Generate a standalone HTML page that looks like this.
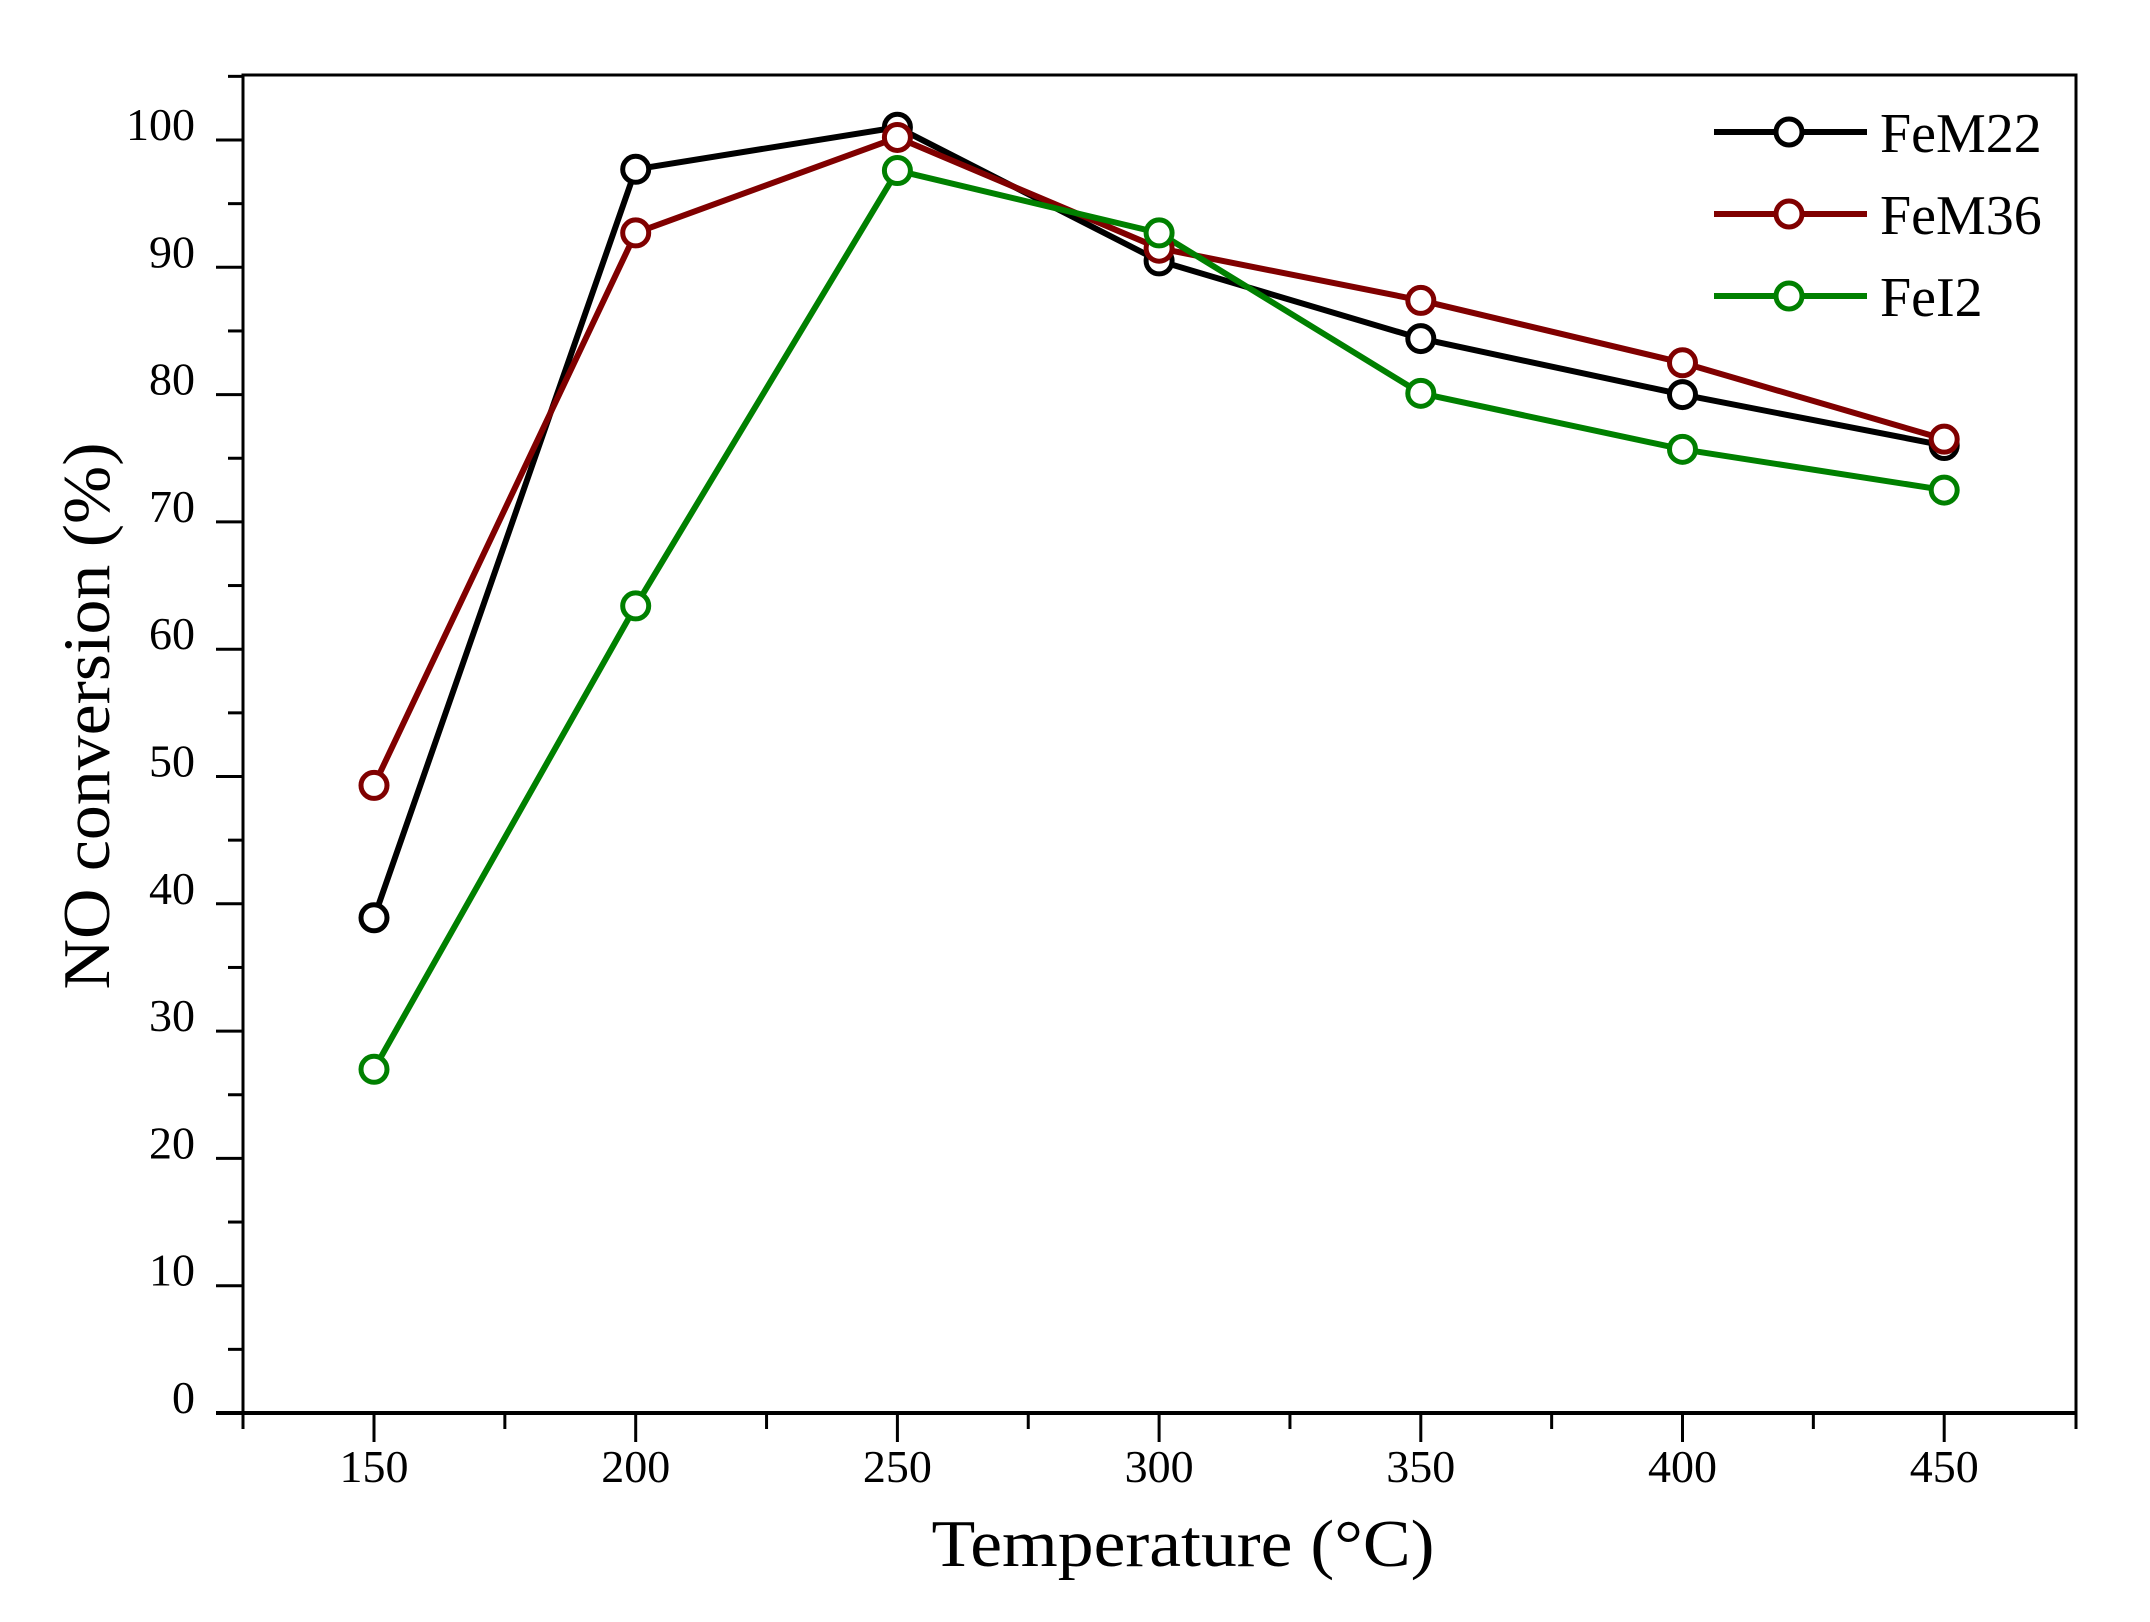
<!DOCTYPE html>
<html><head><meta charset="utf-8"><style>html,body{margin:0;padding:0;background:#fff}svg{display:block}</style></head>
<body>
<svg width="2150" height="1622" viewBox="0 0 2150 1622" xmlns="http://www.w3.org/2000/svg" font-family="Liberation Serif, serif">
<rect width="2150" height="1622" fill="#fff"/>
<g stroke="#000" stroke-width="3" fill="none">
<rect x="243" y="75" width="1833" height="1338"/>
<line x1="216" y1="1413" x2="2076" y2="1413" stroke-width="4"/>
<line x1="243" y1="1413" x2="243" y2="1429"/>
<line x1="2076" y1="1413" x2="2076" y2="1429"/>
</g>
<g stroke="#000" stroke-width="3" id="yt"></g>
<g stroke="#000" stroke-width="3" id="xt"></g>
<g font-size="46" text-anchor="end" id="yl"></g>
<g font-size="46" text-anchor="middle" id="xl"></g>
<text x="1183" y="1566" font-size="67" text-anchor="middle" textLength="503" lengthAdjust="spacingAndGlyphs">Temperature (°C)</text>
<text transform="translate(109,716) rotate(-90)" font-size="67" text-anchor="middle" textLength="547" lengthAdjust="spacingAndGlyphs">NO conversion (%)</text>
<g id="series"></g>
<g stroke-width="6" fill="#fff">
<line x1="1714" y1="132" x2="1867" y2="132" stroke="#000"/><circle cx="1789" cy="132" r="13" stroke="#000" stroke-width="5"/>
<line x1="1714" y1="214" x2="1867" y2="214" stroke="#800000"/><circle cx="1789" cy="214" r="13" stroke="#800000" stroke-width="5"/>
<line x1="1714" y1="296" x2="1867" y2="296" stroke="#008000"/><circle cx="1789" cy="296" r="13" stroke="#008000" stroke-width="5"/>
</g>
<g font-size="56">
<text x="1880" y="152">FeM22</text>
<text x="1880" y="234">FeM36</text>
<text x="1880" y="316">FeI2</text>
</g>
<script>
var NS="http://www.w3.org/2000/svg";
function el(p,t,a,txt){var e=document.createElementNS(NS,t);for(var k in a)e.setAttribute(k,a[k]);if(txt!==undefined)e.textContent=txt;document.getElementById(p).appendChild(e);return e;}
function Y(v){return 1413-v*12.73;}
function X(t){return 374+(t-150)*261.7/50;}
for(var v=0;v<=105;v+=5){var maj=v%10==0;el("yt","line",{x1:maj?216:228,y1:Y(v),x2:243,y2:Y(v)});if(maj)el("yl","text",{x:195,y:Y(v)},String(v));}
for(var t=125;t<=475;t+=25){var maj=(t%50==0);if(t==125||t==475)continue;el("xt","line",{x1:X(t),y1:1413,x2:X(t),y2:maj?1442:1429});if(maj)el("xl","text",{x:X(t),y:1482},String(t));}
var T=[150,200,250,300,350,400,450];
var S=[["#000",[38.9,97.7,101.0,90.5,84.4,80.0,76.0]],["#800000",[49.3,92.7,100.2,91.5,87.4,82.5,76.5]],["#008000",[27.0,63.4,97.6,92.7,80.1,75.7,72.5]]];
S.forEach(function(s){var pts=T.map(function(t,i){return X(t)+","+Y(s[1][i]);}).join(" ");
el("series","polyline",{points:pts,fill:"none",stroke:s[0],"stroke-width":6,"stroke-linejoin":"round"});});
S.forEach(function(s){T.forEach(function(t,i){el("series","circle",{cx:X(t),cy:Y(s[1][i]),r:13,fill:"#fff",stroke:s[0],"stroke-width":5});});});
</script>
</svg>
</body></html>
